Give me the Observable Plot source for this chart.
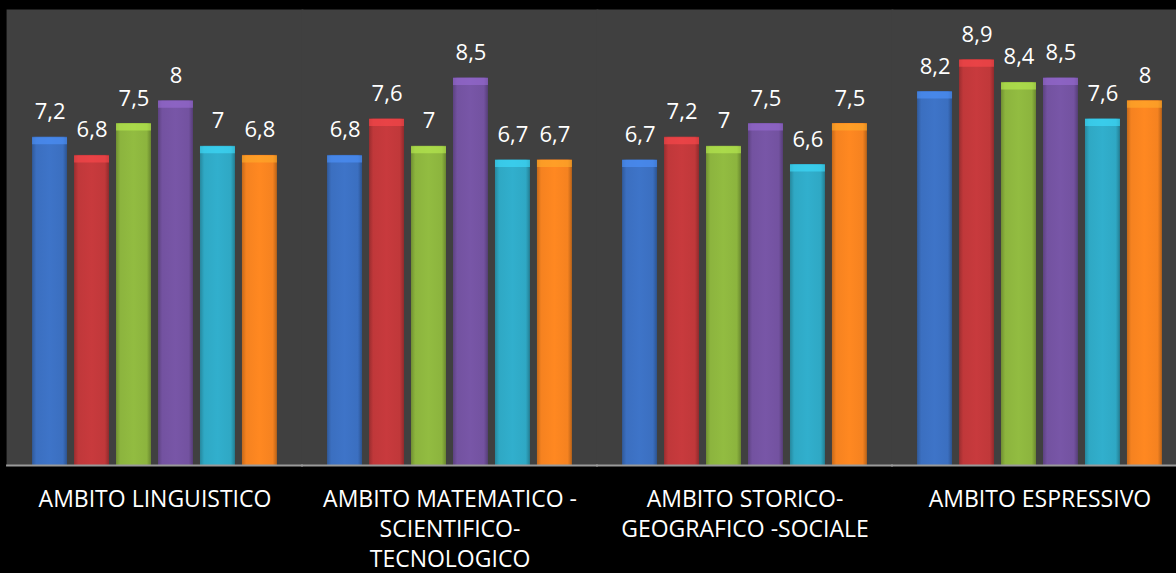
<!DOCTYPE html>
<html><head><meta charset="utf-8">
<script src="https://cdn.jsdelivr.net/npm/d3@7"></script>
<script src="https://cdn.jsdelivr.net/npm/@observablehq/plot@0.6"></script>
<style>html,body{margin:0;padding:0;background:#000;overflow:hidden}</style>
</head><body><div id="chart"></div><script>
const categories = ["AMBITO LINGUISTICO", "AMBITO MATEMATICO - SCIENTIFICO- TECNOLOGICO", "AMBITO STORICO- GEOGRAFICO -SOCIALE", "AMBITO ESPRESSIVO"];
const categoryLabels = ["AMBITO LINGUISTICO", "AMBITO MATEMATICO -\nSCIENTIFICO-\nTECNOLOGICO", "AMBITO STORICO-\nGEOGRAFICO -SOCIALE", "AMBITO ESPRESSIVO"];
const seriesNames = ["Serie 1", "Serie 2", "Serie 3", "Serie 4", "Serie 5", "Serie 6"];
const serie1 = [7.2, 6.8, 6.7, 8.2];
const serie2 = [6.8, 7.6, 7.2, 8.9];
const serie3 = [7.5, 7, 7, 8.4];
const serie4 = [8, 8.5, 7.5, 8.5];
const serie5 = [7, 6.7, 6.6, 7.6];
const serie6 = [6.8, 6.7, 7.5, 8];
const seriesValues = [serie1, serie2, serie3, serie4, serie5, serie6];
const baseColors = ["#3b6fc0", "#c0383a", "#8cb43e", "#7352a0", "#2fa8c4", "#f58220"];

const data = [];
seriesValues.forEach((vals, s) => vals.forEach((v, c) => data.push({
  category: categories[c], series: seriesNames[s], value: v, si: s,
  grad: `url(#grad${s})`,
  top: d3.color(baseColors[s]).brighter(0.8).formatHex()
})));

const svg = Plot.plot({
  width: 1176, height: 573,
  marginTop: 9, marginBottom: 108, marginLeft: 7, marginRight: 0,
  style: {background: "#000", color: "#fff", fontFamily: "'Open Sans', sans-serif"},
  fx: {domain: categories, range: [7, 1187], paddingInner: 0.17, paddingOuter: 0.085, round: false},
  x: {domain: seriesNames, paddingInner: 0.167, paddingOuter: 0, round: false, axis: null},
  y: {domain: [0, 10], axis: null},
  color: {type: "identity"},
  marks: [
    Plot.frame({fill: "#404040", stroke: null, insetLeft: -26, insetRight: -26}),
    Plot.barY(data, {fx: "category", x: "series", y: "value", fill: "grad"}),
    Plot.tickY(data, {fx: "category", x: "series", y: "value", stroke: "top", strokeWidth: 7, dy: 3.5, strokeOpacity: 0.6}),
    Plot.ruleY([0], {stroke: "#9a9a9a", strokeWidth: 2, insetLeft: -26, insetRight: -26}),
    Plot.text(data, {fx: "category", x: "series", y: "value", text: d => String(d.value).replace(".", ","),
      dy: -18, lineAnchor: "bottom", fill: "#fff", fontSize: 22}),
    Plot.axisFx({anchor: "bottom", tickSize: 0, tickPadding: 20, fontSize: 23, fill: "#fff", lineHeight: 1.3,
      label: null, tickFormat: d => categoryLabels[categories.indexOf(d)]})
  ]
});

const defs = d3.create("svg:defs");
baseColors.forEach((c, i) => {
  const g = defs.append("linearGradient").attr("id", `grad${i}`).attr("x1", 0).attr("x2", 1).attr("y1", 0).attr("y2", 0);
  const base = d3.color(c);
  g.append("stop").attr("offset", "0%").attr("stop-color", base.darker(0.6).formatHex());
  g.append("stop").attr("offset", "12%").attr("stop-color", base.formatHex());
  g.append("stop").attr("offset", "50%").attr("stop-color", base.brighter(0.12).formatHex());
  g.append("stop").attr("offset", "88%").attr("stop-color", base.formatHex());
  g.append("stop").attr("offset", "100%").attr("stop-color", base.darker(0.8).formatHex());
});
svg.insertBefore(defs.node(), svg.firstChild);
document.getElementById("chart").appendChild(svg);
</script></body></html>
